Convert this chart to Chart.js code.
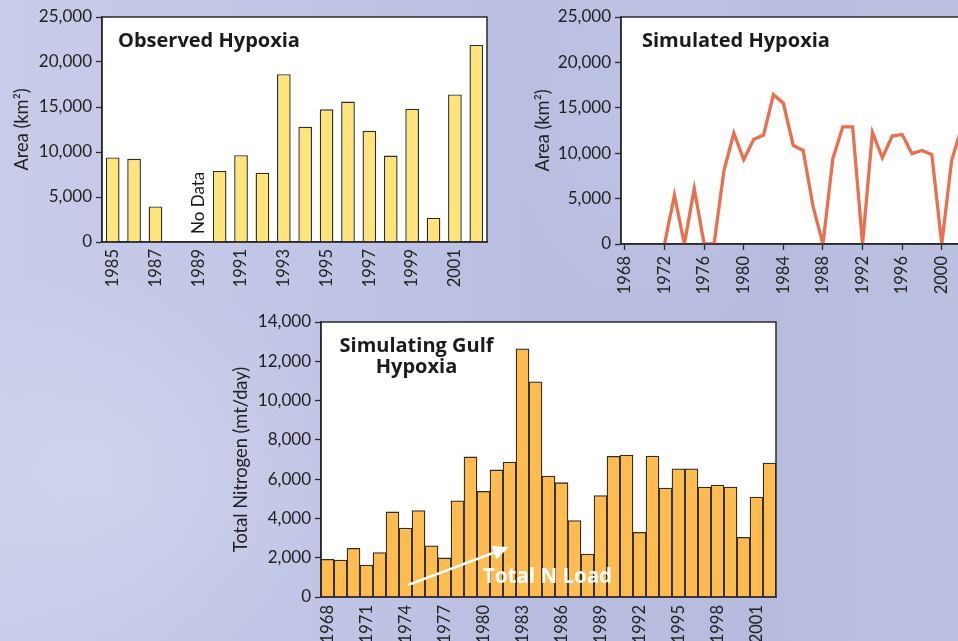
<!DOCTYPE html>
<html>
<head>
<meta charset="utf-8">
<script src="https://cdn.jsdelivr.net/npm/chart.js@4.4.0/dist/chart.umd.min.js"></script>
<style>
  html, body { margin: 0; padding: 0; width: 958px; height: 641px; overflow: hidden; }
  body {
    position: relative;
    background:
      radial-gradient(ellipse 260px 200px at 90px 470px, rgba(214,218,240,0.55), rgba(214,218,240,0)),
      radial-gradient(ellipse 160px 260px at 660px 80px, rgba(200,205,236,0.45), rgba(200,205,236,0)),
      linear-gradient(90deg, #c8cce9 0%, #c2c6e6 30%, #b9bde0 55%, #b7bbde 80%, #bcc0e0 100%);
  }
  .panel { position: absolute; }
</style>
</head>
<body>
<div class="panel" style="left:0;top:0;width:500px;height:300px"><canvas id="observedCanvas"></canvas></div>
<div class="panel" style="left:520px;top:0;width:470px;height:300px"><canvas id="simulatedCanvas"></canvas></div>
<div class="panel" style="left:230px;top:310px;width:560px;height:360px"><canvas id="nitrogenCanvas"></canvas></div>
<script>
// observed hypoxic area, km2 (1989: no data)
var observedYears = ['1985', '1986', '1987', '1988', '1989', '1990', '1991', '1992', '1993',
  '1994', '1995', '1996', '1997', '1998', '1999', '2000', '2001', '2002'];
var observedArea = [9400, 9250, 3950, 40, null, 7900, 9650, 7700, 18650,
  12800, 14750, 15600, 12350, 9600, 14800, 2700, 16400, 21900];

// model output, km2
var simulatedYears = [1972, 1973, 1974, 1975, 1976, 1977, 1978, 1979, 1980, 1981, 1982,
  1983, 1984, 1985, 1986, 1987, 1988, 1989, 1990, 1991, 1992, 1993, 1994, 1995, 1996,
  1997, 1998, 1999, 2000, 2001, 2002];
var simulatedArea = [0, 5400, 0, 6100, 0, 0, 8100, 12200, 9300, 11500, 12000,
  16450, 15500, 10850, 10300, 4150, 0, 9400, 12900, 12900, 0, 12300, 9500, 11900, 12050,
  9950, 10300, 9850, 0, 9200, 12800];

// total nitrogen load, mt/day
var nitrogenYears = ['1968', '1969', '1970', '1971', '1972', '1973', '1974', '1975', '1976', '1977',
  '1978', '1979', '1980', '1981', '1982', '1983', '1984', '1985', '1986', '1987',
  '1988', '1989', '1990', '1991', '1992', '1993', '1994', '1995', '1996', '1997',
  '1998', '1999', '2000', '2001', '2002'];
var nitrogenLoad = [1920, 1880, 2480, 1630, 2260, 4330, 3510, 4400, 2610, 1990,
  4900, 7130, 5380, 6470, 6870, 12640, 10960, 6160, 5820, 3890,
  2190, 5160, 7160, 7230, 3290, 7180, 5550, 6530, 6530, 5600,
  5700, 5600, 3040, 5090, 6820];

var FONT = 'Lato, "Open Sans", sans-serif';
var TITLE_FONT = '"Open Sans", Lato, sans-serif';
var INK = '#222';

// white plot background and dark frame
var plotFrame = {
  id: 'plotFrame',
  beforeDraw: function (chart) {
    var a = chart.chartArea, ctx = chart.ctx;
    ctx.save();
    ctx.fillStyle = '#fff';
    ctx.fillRect(a.left, a.top, a.right - a.left, a.bottom - a.top);
    ctx.restore();
  },
  afterDatasetsDraw: function (chart) {
    var a = chart.chartArea, ctx = chart.ctx;
    ctx.save();
    ctx.strokeStyle = '#2a2a2a';
    ctx.lineWidth = 1.5;
    ctx.strokeRect(a.left, a.top, a.right - a.left, a.bottom - a.top);
    ctx.restore();
  }
};

// titles, notes and the arrow for one panel
function panelText(items) {
  return {
    id: 'panelText',
    afterDraw: function (chart) {
      var ctx = chart.ctx;
      items.forEach(function (t) {
        ctx.save();
        if (t.arrow) {
          var p = t.arrow;
          var ang = Math.atan2(p[3] - p[1], p[2] - p[0]);
          ctx.strokeStyle = t.color;
          ctx.fillStyle = t.color;
          ctx.lineWidth = 2.6;
          ctx.beginPath();
          ctx.moveTo(p[0], p[1]);
          ctx.lineTo(p[2] - 10 * Math.cos(ang), p[3] - 10 * Math.sin(ang));
          ctx.stroke();
          ctx.translate(p[2], p[3]);
          ctx.rotate(ang);
          ctx.beginPath();
          ctx.moveTo(0, 0);
          ctx.lineTo(-16, -7);
          ctx.lineTo(-16, 7);
          ctx.closePath();
          ctx.fill();
          ctx.restore();
          return;
        }
        var x = t.x;
        if (t.category) {
          x = chart.scales.x.getPixelForValue(chart.data.labels.indexOf(t.category));
        }
        ctx.font = t.font;
        ctx.fillStyle = t.color || '#1b1b1b';
        ctx.textAlign = t.align || 'left';
        ctx.textBaseline = t.baseline || 'alphabetic';
        ctx.translate(x, t.y);
        if (t.rotate) ctx.rotate(t.rotate);
        ctx.fillText(t.text, 0, 0);
        ctx.restore();
      });
    }
  };
}

function thousands(v) {
  return Number(v).toLocaleString('en-US');
}

function yAxis(max, step, title, width, titlePad) {
  return {
    min: 0,
    max: max,
    ticks: {
      stepSize: step,
      color: INK,
      font: { family: FONT, size: 17 },
      padding: 4,
      callback: thousands
    },
    grid: { drawOnChartArea: false, drawTicks: true, tickLength: 6, tickColor: '#2a2a2a', tickWidth: 1.3 },
    border: { display: true, color: '#2a2a2a', width: 1.5 },
    title: {
      display: true,
      text: title,
      color: INK,
      font: { family: FONT, size: 18.3 },
      padding: { top: titlePad, bottom: 0 }
    },
    afterFit: function (scale) {
      scale.width = width;
      scale.paddingTop = 0;
      scale.paddingBottom = 0;
    }
  };
}

function fixHeight(h) {
  return function (scale) {
    scale.height = h;
    scale.paddingLeft = 0;
    scale.paddingRight = 0;
  };
}

Chart.defaults.animation = false;

new Chart(document.getElementById('observedCanvas'), {
  type: 'bar',
  data: {
    labels: observedYears,
    datasets: [{
      data: observedArea,
      backgroundColor: '#ffe47c',
      borderColor: '#2e2e2e',
      borderWidth: 1.4,
      borderSkipped: 'start',
      categoryPercentage: 1,
      barPercentage: 0.64
    }]
  },
  options: {
    responsive: true,
    maintainAspectRatio: false,
    layout: { padding: { left: 0, top: 17, right: 13, bottom: 0 } },
    plugins: { legend: { display: false }, tooltip: { enabled: false } },
    scales: {
      x: {
        ticks: {
          color: INK,
          font: { family: FONT, size: 16.5 },
          maxRotation: 90,
          minRotation: 90,
          autoSkip: false,
          padding: 7,
          callback: function (v, i) { return i % 2 === 0 ? observedYears[i] : ''; }
        },
        grid: { display: false, drawTicks: false },
        border: { display: true, color: '#2a2a2a', width: 1.5 },
        afterFit: fixHeight(58)
      },
      y: yAxis(25000, 5000, 'Area (km²)', 102, 11)
    }
  },
  plugins: [plotFrame, panelText([
    { text: 'Observed Hypoxia', x: 118, y: 47, font: 'bold 20px ' + TITLE_FONT },
    { text: 'No Data', category: '1989', y: 234, rotate: -Math.PI / 2, baseline: 'middle', font: '17px ' + FONT }
  ])]
});

new Chart(document.getElementById('simulatedCanvas'), {
  type: 'line',
  data: {
    datasets: [{
      data: simulatedYears.map(function (yr, i) { return { x: yr, y: simulatedArea[i] }; }),
      borderColor: '#e8704f',
      borderWidth: 3.3,
      pointRadius: 0,
      tension: 0,
      fill: false
    }]
  },
  options: {
    responsive: true,
    maintainAspectRatio: false,
    layout: { padding: { left: 0, top: 17, right: 23.5, bottom: 0 } },
    plugins: { legend: { display: false }, tooltip: { enabled: false } },
    scales: {
      x: {
        type: 'linear',
        min: 1967.6,
        max: 2002.5,
        ticks: {
          stepSize: 4,
          includeBounds: false,
          color: INK,
          font: { family: FONT, size: 16.5 },
          maxRotation: 90,
          minRotation: 90,
          padding: 6,
          callback: function (v) { return String(v); }
        },
        grid: { drawOnChartArea: false, drawTicks: true, tickLength: 6, tickColor: '#2a2a2a', tickWidth: 1.3 },
        border: { display: true, color: '#2a2a2a', width: 1.5 },
        afterFit: fixHeight(56)
      },
      y: yAxis(25000, 5000, 'Area (km²)', 101, 12)
    }
  },
  plugins: [plotFrame, panelText([
    { text: 'Simulated Hypoxia', x: 122, y: 47, font: 'bold 20px ' + TITLE_FONT }
  ])]
});

new Chart(document.getElementById('nitrogenCanvas'), {
  type: 'bar',
  data: {
    labels: nitrogenYears,
    datasets: [{
      data: nitrogenLoad,
      backgroundColor: '#fdbb50',
      borderColor: '#2e2e2e',
      borderWidth: 1.3,
      borderSkipped: 'start',
      categoryPercentage: 1,
      barPercentage: 1
    }]
  },
  options: {
    responsive: true,
    maintainAspectRatio: false,
    layout: { padding: { left: 0, top: 12, right: 14, bottom: 0 } },
    plugins: { legend: { display: false }, tooltip: { enabled: false } },
    scales: {
      x: {
        ticks: {
          color: INK,
          font: { family: FONT, size: 16.5 },
          maxRotation: 90,
          minRotation: 90,
          autoSkip: false,
          padding: 8,
          callback: function (v, i) { return i % 3 === 0 ? nitrogenYears[i] : ''; }
        },
        grid: { display: false, drawTicks: false },
        border: { display: true, color: '#2a2a2a', width: 1.5 },
        afterFit: fixHeight(73)
      },
      y: yAxis(14000, 2000, 'Total Nitrogen (mt/day)', 91, 0)
    }
  },
  plugins: [plotFrame, panelText([
    { text: 'Simulating Gulf', x: 186.5, y: 42, align: 'center', font: 'bold 20px ' + TITLE_FONT },
    { text: 'Hypoxia', x: 186.5, y: 63, align: 'center', font: 'bold 20px ' + TITLE_FONT },
    { arrow: [178, 275, 279, 237], color: '#ffffff' },
    { text: 'Total N Load', x: 253, y: 273, color: '#ffffff', font: 'bold 20.5px ' + TITLE_FONT }
  ])]
});
</script>
</body>
</html>
